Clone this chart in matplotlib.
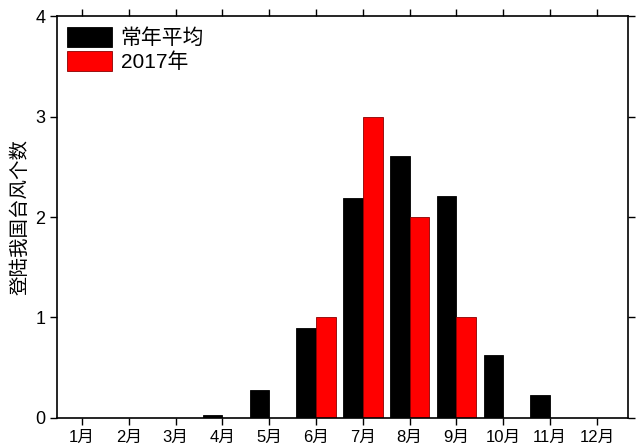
import matplotlib
matplotlib.use("Agg")
import matplotlib.pyplot as plt
import numpy as np

plt.rcParams['font.family'] = ['Liberation Sans', 'Noto Sans CJK SC']

months = ["1月", "2月", "3月", "4月", "5月", "6月",
          "7月", "8月", "9月", "10月", "11月", "12月"]
avg_counts = [0, 0, 0, 0.03, 0.28, 0.9, 2.19, 2.61, 2.21, 0.63, 0.23, 0]
counts_2017 = [0, 0, 0, 0, 0, 1, 3, 2, 1, 0, 0, 0]

def main():
    fig, ax = plt.subplots(figsize=(6.4, 4.47), dpi=100)
    fig.subplots_adjust(left=0.089, right=0.981, top=0.964, bottom=0.065)

    x = np.arange(1, len(months) + 1)
    w = 0.42
    ax.bar(x - w / 2, avg_counts, w, color="black", edgecolor="black",
           linewidth=0.6, label="常年平均")
    ax.bar(x + w / 2, counts_2017, w, color="#ff0000", edgecolor="#8b0000",
           linewidth=0.6, label="2017年")

    ax.set_xlim(0.466, 12.66)
    ax.set_ylim(0, 4)
    ax.set_yticks([0, 1, 2, 3, 4])
    ax.set_xticks(x)
    ax.set_xticklabels(months, fontsize=12)
    ax.tick_params(axis='y', labelsize=13)
    ax.tick_params(direction='out', length=5, width=1,
                   top=True, right=True, labeltop=False, labelright=False)
    for s in ax.spines.values():
        s.set_linewidth(1.2)

    ax.set_ylabel("登陆我国台风个数", fontsize=14, labelpad=4)

    ax.legend(loc="upper left", fontsize=15, frameon=False,
              handlelength=2.15, handleheight=1.1, handletextpad=0.4,
              labelspacing=0.15, borderaxespad=0.2, borderpad=0.3)

    fig.savefig("out.png", dpi=100)


if __name__ == "__main__":
    main()
